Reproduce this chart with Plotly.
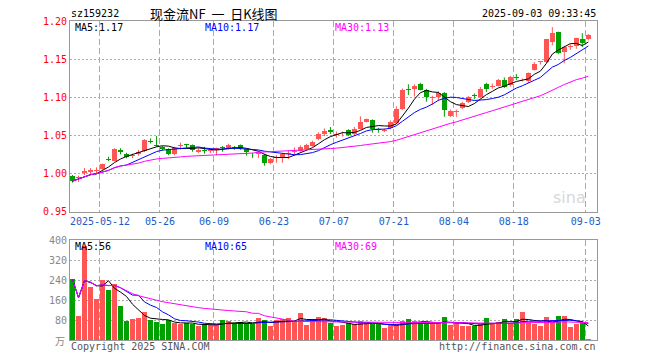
import numpy as np
import pandas as pd
import plotly.graph_objects as go

# ---------------- data ----------------
opens = [0.997, 0.994, 1.001, 1.0016, 1.003, 1.0055, 1.019, 1.0164, 1.031, 1.0255,
         1.023, 1.0255, 1.0294, 1.0428, 1.038, 1.0347, 1.0317, 1.026, 1.036, 1.0375,
         1.0373, 1.0285, 1.0305, 1.029, 1.0304, 1.0335, 1.033, 1.0345, 1.037, 1.0317,
         1.0255, 1.0255, 1.024, 1.0135, 1.0202, 1.020, 1.0255, 1.0288, 1.0295, 1.032,
         1.0364, 1.0447, 1.0513, 1.0565, 1.050, 1.0525, 1.057, 1.052, 1.059, 1.068,
         1.070, 1.0575, 1.0555, 1.0592, 1.066, 1.084, 1.110, 1.111, 1.117, 1.110,
         1.0995, 1.0998, 1.105, 1.0753, 1.0805, 1.0853, 1.0932, 1.1028, 1.1005, 1.118,
         1.1132, 1.115, 1.1223, 1.1158, 1.1265, 1.122, 1.1207, 1.136, 1.1465, 1.1456,
         1.173, 1.185, 1.160, 1.1658, 1.1673, 1.1765, 1.176]
highs = [0.998, 0.997, 1.007, 1.007, 1.008, 1.013, 1.022, 1.033, 1.033, 1.027,
         1.026, 1.031, 1.045, 1.046, 1.049, 1.036, 1.033, 1.035, 1.0405, 1.039,
         1.038, 1.033, 1.035, 1.032, 1.034, 1.036, 1.039, 1.036, 1.038, 1.033,
         1.027, 1.028, 1.026, 1.0205, 1.024, 1.027, 1.030, 1.034, 1.037, 1.039,
         1.043, 1.054, 1.059, 1.061, 1.055, 1.055, 1.058, 1.061, 1.075, 1.072,
         1.071, 1.060, 1.059, 1.0695, 1.088, 1.1115, 1.117, 1.117, 1.119, 1.111,
         1.102, 1.108, 1.107, 1.084, 1.084, 1.094, 1.1015, 1.105, 1.1135, 1.119,
         1.118, 1.124, 1.126, 1.128, 1.1305, 1.1245, 1.1325, 1.146, 1.1475, 1.176,
         1.192, 1.186, 1.1675, 1.1695, 1.178, 1.184, 1.183]
lows = [0.988, 0.989, 0.998, 0.999, 1.000, 1.005, 1.0163, 1.016, 1.025, 1.020,
        1.020, 1.0233, 1.028, 1.0394, 1.035, 1.030, 1.024, 1.024, 1.0316, 1.033,
        1.0286, 1.027, 1.026, 1.027, 1.024, 1.0285, 1.0314, 1.031, 1.031, 1.0235,
        1.0204, 1.0204, 1.0102, 1.012, 1.014, 1.0141, 1.019, 1.024, 1.0285, 1.031,
        1.035, 1.0435, 1.049, 1.0517, 1.047, 1.0485, 1.049, 1.050, 1.0575, 1.067,
        1.0534, 1.0535, 1.0543, 1.058, 1.065, 1.083, 1.103, 1.101, 1.109, 1.094,
        1.090, 1.095, 1.0743, 1.074, 1.0743, 1.0843, 1.0925, 1.0975, 1.099, 1.107,
        1.111, 1.114, 1.112, 1.114, 1.1225, 1.1207, 1.119, 1.135, 1.143, 1.145,
        1.168, 1.1565, 1.1446, 1.162, 1.1635, 1.166, 1.1745]
closes = [0.990, 0.996, 1.003, 1.0046, 1.005, 1.012, 1.018, 1.032, 1.028, 1.022,
          1.0245, 1.0285, 1.0442, 1.0416, 1.036, 1.0316, 1.026, 1.033, 1.037, 1.037,
          1.0304, 1.031, 1.030, 1.0295, 1.033, 1.033, 1.0373, 1.034, 1.033, 1.0277,
          1.025, 1.026, 1.014, 1.019, 1.0208, 1.025, 1.026, 1.0292, 1.0347, 1.0373,
          1.0416, 1.0517, 1.056, 1.055, 1.052, 1.053, 1.0505, 1.059, 1.068, 1.0713,
          1.059, 1.057, 1.0565, 1.0673, 1.085, 1.110, 1.1095, 1.115, 1.110, 1.1005,
          1.100, 1.1058, 1.083, 1.082, 1.081, 1.0927, 1.1005, 1.1022, 1.111, 1.1106,
          1.1142, 1.1232, 1.1136, 1.1267, 1.1255, 1.123, 1.1315, 1.1437, 1.147, 1.176,
          1.1848, 1.158, 1.1665, 1.1662, 1.1774, 1.171, 1.181]
volumes = [243, 95, 375, 211, 163, 239, 199, 223, 135, 76,
           83, 87, 111, 79, 71, 63, 79, 67, 63, 67,
           63, 55, 63, 59, 63, 79, 75, 67, 71, 67,
           63, 87, 79, 55, 79, 83, 87, 75, 107, 59,
           75, 91, 87, 67, 55, 59, 67, 63, 75, 67,
           63, 63, 47, 59, 63, 75, 83, 75, 67, 67,
           67, 67, 91, 59, 67, 55, 55, 55, 63, 87,
           63, 71, 83, 67, 83, 111, 67, 63, 55, 91,
           79, 95, 95, 51, 63, 67, 5]
tick_idx = [5, 15, 24, 34, 44, 54, 64, 74, 86]
tick_text = ["2025-05-12", "05-26", "06-09", "06-23", "07-07", "07-21", "08-04", "08-18", "09-03"]
price_ticks = [0.95, 1.00, 1.05, 1.10, 1.15, 1.20]
vol_ticks = [80, 160, 240, 320, 400]

# ---------------- styling ----------------
RED = "#FF5555"
GREEN = "#00A000"
MONO = "DejaVu Sans Mono"
CJK = "Noto Sans CJK SC"
GRID = "#AAAAAA"
BORDER = "#999999"

o = np.array(opens); h = np.array(highs); l = np.array(lows); c = np.array(closes)
v = np.array(volumes)
n = len(c)
x = np.arange(n)
up = c >= o
cols = [RED if u else GREEN for u in up]

def ma(s, k):
    return pd.Series(s).rolling(k, min_periods=1).mean().values

fig = go.Figure()

# wicks
for flag, col in ((True, RED), (False, GREEN)):
    wx, wy = [], []
    for i in range(n):
        if up[i] == flag:
            wx += [x[i], x[i], None]
            wy += [l[i], h[i], None]
    fig.add_trace(go.Scatter(x=wx, y=wy, mode="lines", line=dict(color=col, width=1),
                             xaxis="x", yaxis="y", hoverinfo="skip", showlegend=False))

# bodies
base = np.minimum(o, c)
height = np.maximum(np.abs(c - o), 0.0012)
fig.add_trace(go.Bar(x=x, y=height, base=base, width=0.84, marker=dict(color=cols, line=dict(width=0)),
                     xaxis="x", yaxis="y", showlegend=False, hoverinfo="skip"))

# price MAs
for k, col in ((5, "#000000"), (10, "#0000FF"), (30, "#FF00FF")):
    fig.add_trace(go.Scatter(x=x, y=ma(c, k), mode="lines", line=dict(color=col, width=1),
                             xaxis="x", yaxis="y", showlegend=False, hoverinfo="skip"))

# volume
fig.add_trace(go.Bar(x=x, y=v, width=0.84, marker=dict(color=cols, line=dict(width=0)),
                     xaxis="x2", yaxis="y2", showlegend=False, hoverinfo="skip"))
for k, col in ((5, "#000000"), (10, "#0000FF"), (30, "#FF00FF")):
    fig.add_trace(go.Scatter(x=x, y=ma(v, k), mode="lines", line=dict(color=col, width=1),
                             xaxis="x2", yaxis="y2", showlegend=False, hoverinfo="skip"))

FW, FH = 660, 360
PL, PR, PT, PB = 70, 597.5, 20.5, 340.5   # plot area in page pixels
L = PL
R = FW - PR
T = PT
B = FH - PB
PW = PR - PL
PH = PB - PT

def px_x(px):
    return (px - PL) / PW

def px_y(py):
    return (PB - py) / PH

tv = [i - 0.42 for i in tick_idx]
xr = [-0.42, 87.45]
common_x = dict(range=xr, tickvals=tv, showgrid=True, gridcolor=GRID, griddash="6px,3px",
                gridwidth=1, showline=True, mirror=True, linecolor=BORDER, linewidth=1,
                ticks="", zeroline=False, automargin=False)

fig.update_layout(
    width=FW, height=FH,
    margin=dict(l=L, r=R, t=T, b=B, autoexpand=False),
    paper_bgcolor="white", plot_bgcolor="white",
    barmode="overlay", bargap=0,
    showlegend=False,
    xaxis=dict(**common_x, anchor="y", ticktext=tick_text,
               tickfont=dict(family=MONO, size=10, color="#1E5AC8")),
    xaxis2=dict(**common_x, anchor="y2", matches="x", showticklabels=False),
    yaxis=dict(domain=[px_y(211.7), 1], range=[0.95, 1.20], tickvals=price_ticks,
               ticktext=[f"{t:.2f}" for t in price_ticks],
               tickfont=dict(family=MONO, size=10, color="#FF0000"),
               showgrid=True, gridcolor=GRID, griddash="2px,2px", showline=True, mirror=True,
               linecolor=BORDER, ticks="", zeroline=False, anchor="x", automargin=False),
    yaxis2=dict(domain=[0, px_y(240.3)], range=[0, 400], tickvals=vol_ticks,
                ticktext=[str(t) for t in vol_ticks],
                tickfont=dict(family=MONO, size=10, color="#888888"),
                showgrid=True, gridcolor=GRID, griddash="2px,2px", showline=True, mirror=True,
                linecolor=BORDER, ticks="", zeroline=False, anchor="x2", automargin=False),
)

def ann(text, px, py, xanchor="left", color="#000000", size=10, family=MONO):
    fig.add_annotation(text=text, xref="paper", yref="paper", x=px_x(px), y=px_y(py),
                       xanchor=xanchor, yanchor="middle", showarrow=False,
                       font=dict(family=family, size=size, color=color), borderpad=0)

ann("sz159232", 70, 13)
ann("现金流NF\u00a0\u00a0一\u00a0\u00a0日K线图", 214, 13, xanchor="center", size=13, family=CJK)
ann("2025-09-03 09:33:45", 597, 13, xanchor="right")
ann("MA5:1.17", 74, 27)
ann("MA10:1.17", 204, 27, color="#0000FF")
ann("MA30:1.13", 334, 27, color="#FF00FF")
ann("MA5:56", 74, 247)
ann("MA10:65", 204, 247, color="#0000FF")
ann("MA30:69", 334, 247, color="#FF00FF")
ann("万", 66, 341, xanchor="right", color="#888888", size=10, family=CJK)
ann("Copyright 2025 SINA.COM", 70, 347, color="#555555")
ann("http://finance.sina.com.cn", 597, 347, xanchor="right", color="#555555")
ann("sina", 570, 198, xanchor="center", color="#D8D8D8", size=16, family="DejaVu Sans")

fig.write_html("out.html", config={"displayModeBar": False, "staticPlot": True},
               post_script="document.body.style.margin='0px';document.body.style.overflow='hidden';")
